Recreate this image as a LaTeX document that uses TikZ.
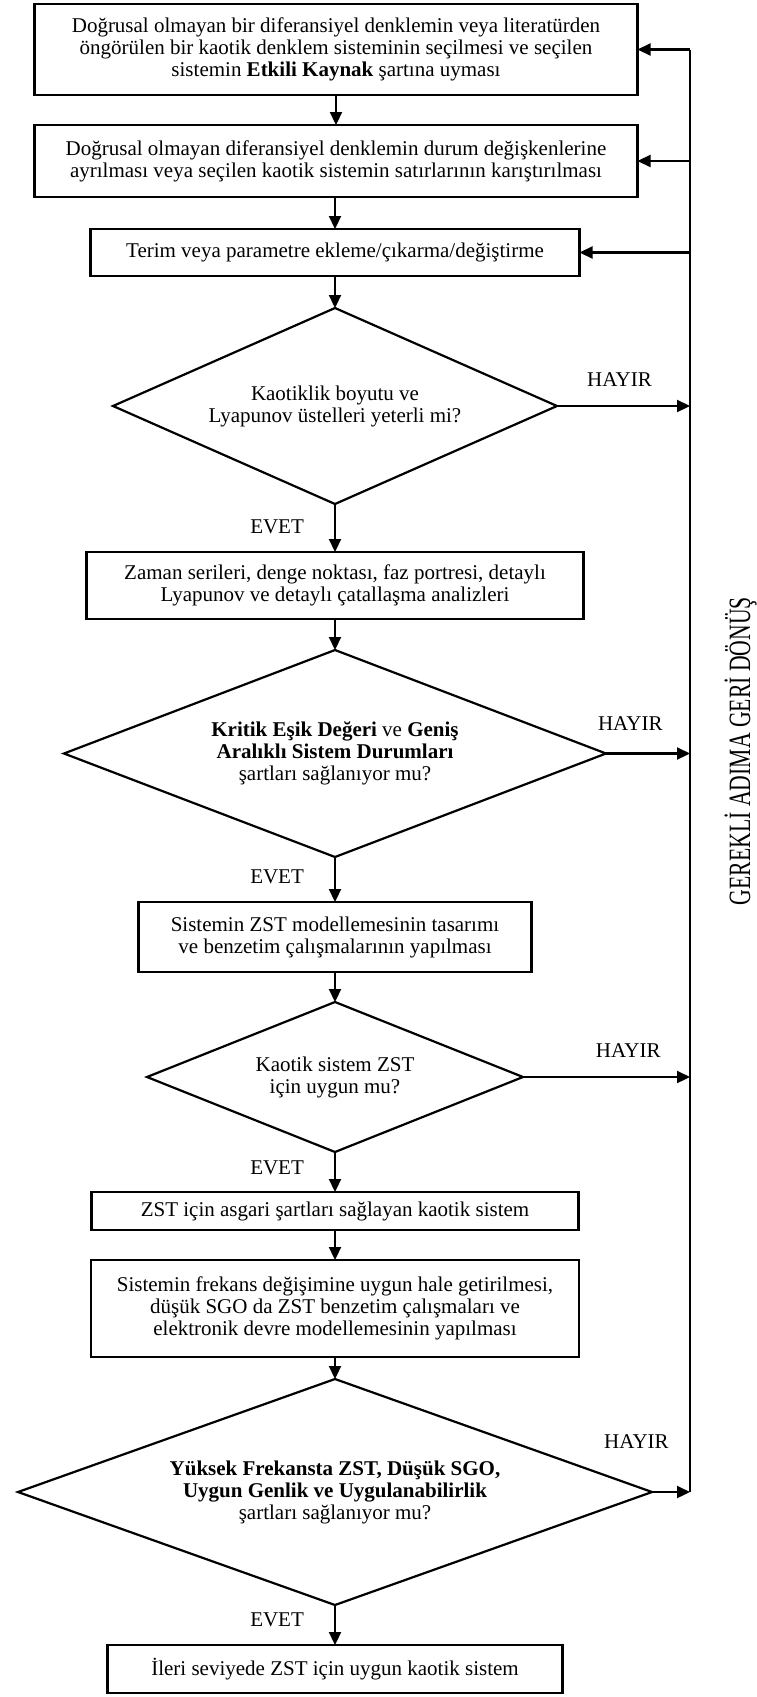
\documentclass[tikz,border=0pt]{standalone}
\usepackage{fontspec}
\setmainfont{Liberation Serif}
\newfontfamily\darfont[FakeStretch=0.7]{Liberation Serif}
\usetikzlibrary{calc}
\usetikzlibrary{arrows.meta}
\usetikzlibrary{shapes.geometric}

\begin{document}
\begin{tikzpicture}[x=1pt, y=-1pt,
  font=\fontsize{21}{22}\selectfont,
  kutu/.style={draw, line width=2.5pt, align=center, inner sep=0pt, outer sep=0pt},
  karar/.style={draw, diamond, line width=2.2pt, align=center, inner sep=0pt, outer sep=0pt},
  ok/.style={line width=2.2pt, -{Triangle[length=13pt, width=12pt]}},
  etiket/.style={inner sep=0pt}]
\useasboundingbox (0,0) rectangle (756,1697);
\node[kutu, minimum width=603pt, minimum height=91pt] (b1) at (336,49.5)
  {Doğrusal olmayan bir diferansiyel denklemin veya literatürden\\
   öngörülen bir kaotik denklem sisteminin seçilmesi ve seçilen\\
   sistemin \textbf{Etkili Kaynak} şartına uyması};
\node[kutu, minimum width=603pt, minimum height=72pt] (b2) at (336,161)
  {Doğrusal olmayan diferansiyel denklemin durum değişkenlerine\\
   ayrılması veya seçilen kaotik sistemin satırlarının karıştırılması};
\node[kutu, minimum width=489pt, minimum height=47pt] (b3) at (335,252.5)
  {Terim veya parametre ekleme/çıkarma/değiştirme};
\node[karar, aspect=2.27, minimum width=444pt, minimum height=196pt] (d1) at (335,406)
  {Kaotiklik boyutu ve\\ Lyapunov üstelleri yeterli mi?};
\node[kutu, minimum width=497pt, minimum height=67pt] (b4) at (335,585.5)
  {Zaman serileri, denge noktası, faz portresi, detaylı\\
   Lyapunov ve detaylı çatallaşma analizleri};
\node[karar, aspect=2.62, minimum width=542pt, minimum height=207pt] (d2) at (335,753.5)
  {\textbf{Kritik Eşik Değeri} ve \textbf{Geniş}\\
   \textbf{Aralıklı Sistem Durumları}\\ şartları sağlanıyor mu?};
\node[kutu, minimum width=393pt, minimum height=70pt] (b5) at (335,937)
  {Sistemin ZST modellemesinin tasarımı\\ ve benzetim çalışmalarının yapılması};
\node[karar, aspect=2.5, minimum width=376pt, minimum height=150pt] (d3) at (335,1077)
  {Kaotik sistem ZST\\ için uygun mu?};
\node[kutu, minimum width=487pt, minimum height=38pt] (b6) at (335,1211)
  {ZST için asgari şartları sağlayan kaotik sistem};
\node[kutu, minimum width=488pt, minimum height=97pt] (b7) at (335,1308.5)
  {Sistemin frekans değişimine uygun hale getirilmesi,\\
   düşük SGO da ZST benzetim çalışmaları ve\\
   elektronik devre modellemesinin yapılması};
\node[karar, aspect=2.8, minimum width=634pt, minimum height=226pt] (d4) at (335,1492)
  {\textbf{Yüksek Frekansta ZST, Düşük SGO,}\\
   \textbf{Uygun Genlik ve Uygulanabilirlik}\\ şartları sağlanıyor mu?};
\node[kutu, minimum width=455pt, minimum height=48pt] (b8) at (335,1669)
  {İleri seviyede ZST için uygun kaotik sistem};
\coordinate (fbtop) at (690,49.5);
\coordinate (fbbot) at (690,1492);
\node[rotate=90, anchor=base, inner sep=0pt, font=\darfont\fontsize{31}{31}\selectfont] (geri) at (750,751)
  {GEREKLİ ADIMA GERİ DÖNÜŞ};
\draw[line width=2.2pt] (fbtop) -- (fbbot);
\foreach \a/\b in {b1/b2, b2/b3, b3/d1, b4/d2, b5/d3, b6/b7, b7/d4}
  \draw[ok] (\a.south -| \b.north) -- (\b.north);
\foreach \a/\b/\p in {d1/b4/.48, d2/b5/.44, d3/b6/.4, d4/b8/.38}
  \draw[ok] (\a.south) -- (\b.north) node[etiket, pos=\p, left=30pt] {EVET};
\foreach \n in {b1,b2,b3}
  \draw[ok] (\n.east -| fbtop) -- (\n.east);
\foreach \d/\p/\h in {d1/.47/18pt, d2/.29/22pt, d3/.63/18pt, d4/-.41/42pt}
  \draw[ok] (\d.east) -- (\d.east -| fbtop) node[etiket, pos=\p, above=\h] {HAYIR};
\end{tikzpicture}
\end{document}
